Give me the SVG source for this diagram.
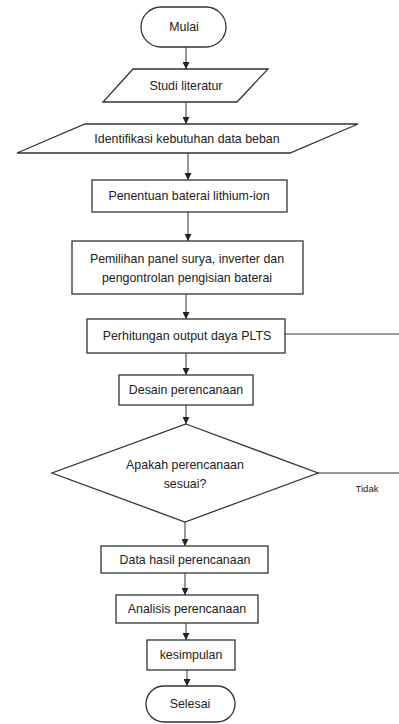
<svg xmlns="http://www.w3.org/2000/svg" width="399" height="724" viewBox="0 0 399 724">
<defs>
<style>
.s{fill:#fff;stroke:#333;stroke-width:1.3}
.t{font-family:"Liberation Sans",Arial,sans-serif;font-size:12.4px;fill:#222;text-anchor:middle}
.c{stroke:#333;stroke-width:1;fill:none}
</style>
<marker id="a" viewBox="0 0 10 10" refX="10" refY="5" markerWidth="7" markerHeight="7" orient="auto" markerUnits="userSpaceOnUse">
<path d="M0,0 L10,5 L0,10 z" fill="#222"/>
</marker>
</defs>
<rect width="399" height="724" fill="#fff"/>
<g id="connectors">
<line class="c" x1="186" y1="47" x2="186" y2="69" marker-end="url(#a)"/>
<line class="c" x1="186" y1="102" x2="186" y2="124" marker-end="url(#a)"/>
<line class="c" x1="188" y1="153" x2="188" y2="180" marker-end="url(#a)"/>
<line class="c" x1="188" y1="212" x2="188" y2="241" marker-end="url(#a)"/>
<line class="c" x1="186" y1="294" x2="186" y2="319" marker-end="url(#a)"/>
<line class="c" x1="186" y1="353" x2="186" y2="375" marker-end="url(#a)"/>
<line class="c" x1="186" y1="405" x2="186" y2="424" marker-end="url(#a)"/>
<line class="c" x1="185" y1="522" x2="185" y2="546" marker-end="url(#a)"/>
<line class="c" x1="185" y1="573" x2="185" y2="595" marker-end="url(#a)"/>
<line class="c" x1="186" y1="623" x2="186" y2="640" marker-end="url(#a)"/>
<line class="c" x1="187" y1="670" x2="187" y2="686" marker-end="url(#a)"/>
<line class="c" x1="285" y1="334" x2="399" y2="334"/>
<line class="c" x1="318" y1="473" x2="399" y2="473"/>
<text class="t" x="367" y="492" style="font-size:9.5px">Tidak</text>
</g>
<g id="mulai">
<rect class="s" x="141" y="7" width="85" height="40" rx="20"/>
<text class="t" x="184" y="31">Mulai</text>
</g>
<g id="studi">
<polygon class="s" points="133,69 268,69 237,102 103,102"/>
<text class="t" x="186" y="90">Studi literatur</text>
</g>
<g id="identifikasi">
<polygon class="s" points="85,124 358,124 290,153 17,153"/>
<text class="t" x="187" y="143">Identifikasi kebutuhan data beban</text>
</g>
<g id="penentuan">
<rect class="s" x="92" y="180" width="195" height="32"/>
<text class="t" x="189" y="200">Penentuan baterai lithium-ion</text>
</g>
<g id="pemilihan">
<rect class="s" x="72" y="241" width="231" height="53"/>
<text class="t" x="187" y="263">Pemilihan panel surya, inverter dan</text>
<text class="t" x="187" y="282">pengontrolan pengisian baterai</text>
</g>
<g id="perhitungan">
<rect class="s" x="87" y="319" width="198" height="34"/>
<text class="t" x="187" y="340">Perhitungan output daya PLTS</text>
</g>
<g id="desain">
<rect class="s" x="119" y="375" width="134" height="30"/>
<text class="t" x="186" y="394">Desain perencanaan</text>
</g>
<g id="keputusan">
<polygon class="s" points="186,424 318,473 185,522 52,473"/>
<text class="t" x="185" y="469">Apakah perencanaan</text>
<text class="t" x="185" y="488">sesuai?</text>
</g>
<g id="data">
<rect class="s" x="101" y="546" width="167" height="27"/>
<text class="t" x="185" y="564">Data hasil perencanaan</text>
</g>
<g id="analisis">
<rect class="s" x="116" y="595" width="142" height="28"/>
<text class="t" x="187" y="613">Analisis perencanaan</text>
</g>
<g id="kesimpulan">
<rect class="s" x="147" y="640" width="88" height="30"/>
<text class="t" x="191" y="659">kesimpulan</text>
</g>
<g id="selesai">
<rect class="s" x="146" y="686" width="89" height="36" rx="18"/>
<text class="t" x="190" y="708">Selesai</text>
</g>
</svg>
